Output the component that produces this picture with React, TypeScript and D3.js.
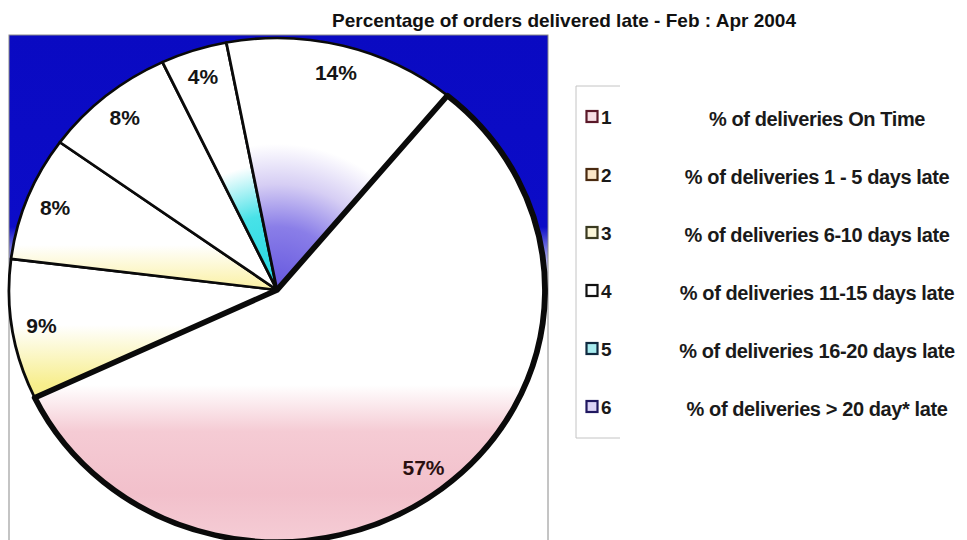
import React from "react";
import * as d3 from "d3";

// chart data
const title = "Percentage of orders delivered late - Feb : Apr 2004";
const seriesKeys = ["1", "2", "3", "4", "5", "6"];
const seriesNames = [
  "% of deliveries On Time",
  "% of deliveries 1 - 5 days late",
  "% of deliveries 6-10 days late",
  "% of deliveries 11-15 days late",
  "% of deliveries 16-20 days late",
  "% of deliveries > 20 day* late",
];
const shares = [57, 9, 8, 8, 4, 14];

const W = 967;
const H = 540;
const font = "'Liberation Sans', Arial, sans-serif";

// pie geometry (scanned pie is a little wider than tall)
const cx = 277;
const cy = 290;
const ry = 252;
const sx = 268 / 252;
const start = (39.5 * Math.PI) / 180;

const swatchFill = ["#f6dde3", "#fbe6c8", "#fbf6d8", "#ffffff", "#a8ecef", "#dcd4f6"];
const swatchStroke = ["#5a1828", "#4a2a10", "#3a3a20", "#111111", "#102a40", "#201860"];
const labelColor = ["#2a1010", "#151515", "#151515", "#151515", "#151515", "#151515"];

const App = () => {
  const pie = d3
    .pie<number>()
    .sort(null)
    .value((d) => d)
    .startAngle(start)
    .endAngle(start + 2 * Math.PI);
  const arcs = pie(shares);
  const arc = d3.arc<d3.PieArcDatum<number>>().innerRadius(0).outerRadius(ry);
  const labelArc = d3
    .arc<d3.PieArcDatum<number>>()
    .innerRadius(ry * 0.89)
    .outerRadius(ry * 0.89);

  const rowY = d3.scalePoint<string>().domain(seriesKeys).range([117, 407]);

  // draw the big slice last so its heavy outline sits on top
  const order = [1, 2, 3, 4, 5, 0];
  const fills = ["url(#s0)", "url(#s1)", "url(#s2)", "#ffffff", "url(#s4)", "url(#s5)"];

  return (
    <div style={{ position: "absolute", left: 0, top: 0 }}>
      <svg width={W} height={H} style={{ display: "block", background: "#fff" }} fontFamily={font}>
        <defs>
          <linearGradient id="bg" gradientUnits="userSpaceOnUse" x1={0} y1={35} x2={0} y2={540}>
            <stop offset={0} stopColor="#0a0ac2" />
            <stop offset={0.38} stopColor="#0c0cc8" />
            <stop offset={0.48} stopColor="#ffffff" />
          </linearGradient>
          <linearGradient id="s0" gradientUnits="userSpaceOnUse" x1={0} y1={95} x2={0} y2={250}>
            <stop offset={0} stopColor="#ffffff" />
            <stop offset={0.3} stopColor="#f5cbd4" />
            <stop offset={0.7} stopColor="#f2c0cb" />
            <stop offset={1} stopColor="#f5ccd5" />
          </linearGradient>
          <linearGradient id="s1" gradientUnits="userSpaceOnUse" x1={0} y1={35} x2={0} y2={95}>
            <stop offset={0} stopColor="#ffffff" />
            <stop offset={1} stopColor="#f7ee8c" />
          </linearGradient>
          <linearGradient id="s2" gradientUnits="userSpaceOnUse" x1={0} y1={-45} x2={0} y2={-5}>
            <stop offset={0} stopColor="#ffffff" />
            <stop offset={1} stopColor="#fbf2ac" />
          </linearGradient>
          <radialGradient id="s4" gradientUnits="userSpaceOnUse" cx={0} cy={0} r={ry}>
            <stop offset={0} stopColor="#22d6e0" />
            <stop offset={0.3} stopColor="#48e2e8" />
            <stop offset={0.5} stopColor="#ffffff" />
          </radialGradient>
          <radialGradient id="s5" gradientUnits="userSpaceOnUse" cx={0} cy={0} r={ry}>
            <stop offset={0} stopColor="#6456de" />
            <stop offset={0.25} stopColor="#8a7ee8" />
            <stop offset={0.42} stopColor="#d6cef4" />
            <stop offset={0.58} stopColor="#ffffff" />
          </radialGradient>
        </defs>

        <text x={564} y={27} textAnchor="middle" fontSize={19} fontWeight="bold" fill="#111">
          {title}
        </text>

        {/* plot frame */}
        <rect x={9} y={35} width={539} height={510} fill="url(#bg)" stroke="#8a8a8a" strokeWidth={1} />

        <g transform={`translate(${cx},${cy}) scale(${sx},1)`}>
          {order.map((i) => (
            <path
              key={i}
              d={arc(arcs[i]) || ""}
              fill={fills[i]}
              stroke="#0a0a0a"
              strokeWidth={i === 0 ? 5.5 : 2.6}
              strokeLinejoin="round"
            />
          ))}
        </g>

        {arcs.map((a, i) => {
          const [lx, ly] = labelArc.centroid(a);
          return (
            <text
              key={i}
              x={cx + lx * sx}
              y={cy + ly}
              dy="0.36em"
              textAnchor="middle"
              fontSize={21}
              fontWeight="bold"
              fill={labelColor[i]}
            >
              {`${a.data}%`}
            </text>
          );
        })}

        {/* legend */}
        <path d="M620,86 H576 V438 H620" fill="none" stroke="#c4c4c4" strokeWidth={1} />
        {seriesKeys.map((k, i) => {
          const y = rowY(k) as number;
          return (
            <g key={k}>
              <rect
                x={586.5}
                y={y - 6}
                width={11}
                height={11}
                fill={swatchFill[i]}
                stroke={swatchStroke[i]}
                strokeWidth={2.2}
              />
              <text x={601} y={y} dy="0.36em" fontSize={19} fontWeight="bold" fill="#1a1a1a">
                {k}
              </text>
              <text
                x={817}
                y={y + 2}
                dy="0.36em"
                textAnchor="middle"
                fontSize={20}
                fontWeight="bold"
                letterSpacing={-0.4}
                fill="#1a1a1a"
              >
                {seriesNames[i]}
              </text>
            </g>
          );
        })}
      </svg>
    </div>
  );
};

export default App;
